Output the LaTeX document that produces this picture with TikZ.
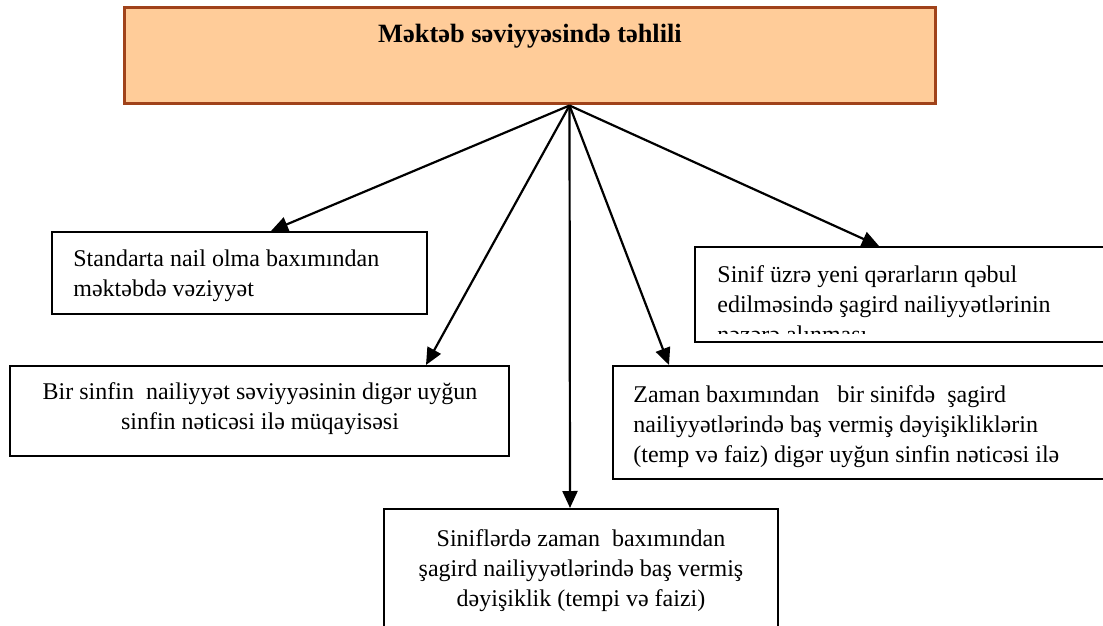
\documentclass[tikz,border=0pt]{standalone}
\usepackage{fontspec}
\setmainfont{Liberation Serif}
\usetikzlibrary{arrows.meta,fit,calc}
\definecolor{peach}{HTML}{FFCC99}
\definecolor{rust}{HTML}{A0421A}
\begin{document}
\begin{tikzpicture}[x=0.5pt,y=-0.5pt,
  box/.style={draw=black,line width=1pt,inner sep=0pt,rectangle,fill=white},
  txt/.style={inner sep=0pt,anchor=base west,font=\fontsize{12}{15}\selectfont},
  ctxt/.style={inner sep=0pt,anchor=base,font=\fontsize{12}{15}\selectfont},
  arr/.style={line width=1.1pt,-{Triangle[length=8.5pt,width=7.5pt]}}]
\clip (0,0) rectangle (1103,626);
\fill[white] (0,0) rectangle (1103,626);
% boxes
\node[box,draw=rust,line width=1.5pt,fill=peach,fit={(124,8) (935,104)}] (top) {};
\node[box,fit={(52,232) (427,314)}] (b1) {};
\node[box,fit={(10,366) (509,456)}] (b2) {};
\node[box,fit={(695,247) (1112,342)}] (b3) {};
\node[box,fit={(613,366) (1112,479)}] (b4) {};
\node[box,fit={(384,509) (778,640)}] (b5) {};
% texts
\node[ctxt,font=\fontsize{13.2}{15}\selectfont\bfseries] (tt) at (530,43) {Məktəb səviyyəsində təhlili};
\node[txt] (t1) at (73,266) {\parbox[t]{190pt}{\raggedright Standarta nail olma baxımından\\məktəbdə vəziyyət}};
\node[ctxt] (t2) at (260,399) {\parbox[t]{240pt}{\centering Bir sinfin~ nailiyyət səviyyəsinin digər uyğun\\sinfin nəticəsi ilə müqayisəsi}};
\begin{scope}
\clip (695,247) rectangle (1103,333);
\node[txt] (t3) at (717,282) {\parbox[t]{200pt}{\raggedright Sinif üzrə yeni qərarların qəbul\\edilməsində şagird nailiyyətlərinin\\nəzərə alınması}};
\end{scope}
\node[txt] (t4) at (633,402) {\parbox[t]{230pt}{\raggedright Zaman baxımından~~ bir sinifdə~ şagird\\nailiyyətlərində baş vermiş dəyişikliklərin\\(temp və faiz) digər uyğun sinfin nəticəsi ilə}};
\node[ctxt] (t5) at (581,546) {\parbox[t]{190pt}{\centering Siniflərdə zaman~ baxımından\\şagird nailiyyətlərində baş vermiş\\dəyişiklik (tempi və faizi)}};
% arrows
\coordinate (hub) at ($(top.south west)+(447,0)$);
\draw[arr] (hub) -- ($(b1.north west)+(220,0)$);
\draw[arr] (hub) -- ($(b2.north west)+(417,0)$);
\draw[arr] (hub) -- ($(b5.north west)+(187,0)$);
\draw[arr] (hub) -- ($(b4.north west)+(57,0)$);
\draw[arr] (hub) -- ($(b3.north west)+(185,0)$);
\end{tikzpicture}
\end{document}
